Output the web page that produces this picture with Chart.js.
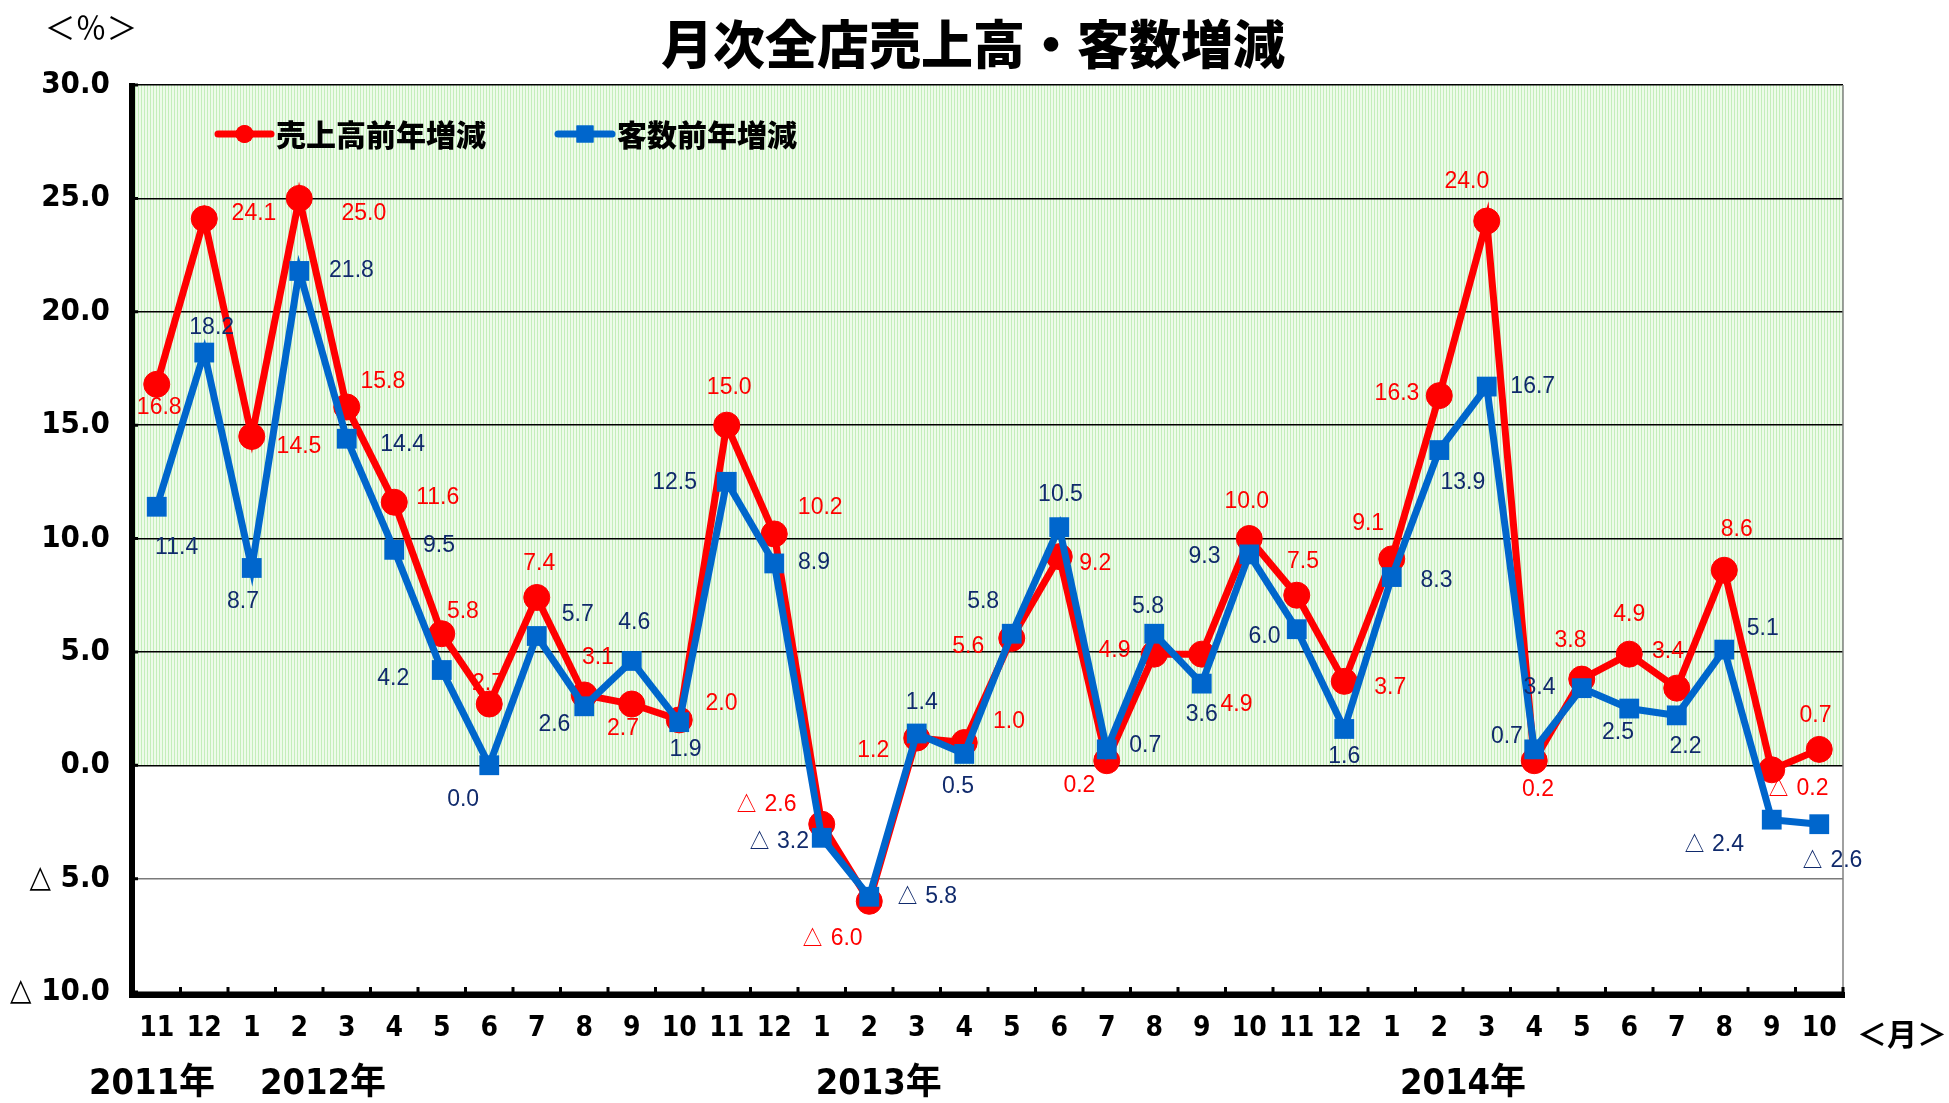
<!DOCTYPE html>
<html lang="ja">
<head>
<meta charset="utf-8">
<script src="https://cdn.jsdelivr.net/npm/chart.js@4.4.1/dist/chart.umd.min.js"></script>
<style>
    html, body { margin: 0; padding: 0; background: #ffffff; }
    #wrap { width: 1949px; height: 1103px; }
</style>
</head>
<body>
<div id="wrap"><canvas id="chart" width="1949" height="1103"></canvas></div>
<script>
// Data
const months = ['11', '12', '1', '2', '3', '4', '5', '6', '7', '8', '9', '10',
    '11', '12', '1', '2', '3', '4', '5', '6', '7', '8', '9', '10',
    '11', '12', '1', '2', '3', '4', '5', '6', '7', '8', '9', '10'];
const salesChange = [16.8, 24.1, 14.5, 25.0, 15.8, 11.6, 5.8, 2.7, 7.4, 3.1, 2.7, 2.0,
    15.0, 10.2, -2.6, -6.0, 1.2, 1.0, 5.6, 9.2, 0.2, 4.9, 4.9, 10.0,
    7.5, 3.7, 9.1, 16.3, 24.0, 0.2, 3.8, 4.9, 3.4, 8.6, -0.2, 0.7];
const customerChange = [11.4, 18.2, 8.7, 21.8, 14.4, 9.5, 4.2, 0.0, 5.7, 2.6, 4.6, 1.9,
    12.5, 8.9, -3.2, -5.8, 1.4, 0.5, 5.8, 10.5, 0.7, 5.8, 3.6, 9.3,
    6.0, 1.6, 8.3, 13.9, 16.7, 0.7, 3.4, 2.5, 2.2, 5.1, -2.4, -2.6];
const yearLabels = ['2011年', '2012年', '2013年', '2014年'];
const yearAt = [-0.1, 3.5, 15.2, 27.5]; // category index under which each year sits
const seriesNames = ['売上高前年増減', '客数前年増減'];

// label nudges (px, measured on a 1568-wide copy, scaled below)
const LABEL_SCALE = 1.243;
const salesLabelOffsets = [[2,19],[40,-4],[38,8],[52,12],[29,-20],[35,-4],[17,-18],[-1,-16],[2,-27],[11,-30],[-7,20],[34,-13],
    [2,-30],[37,-21],[-45,-16],[-30,30],[-35,10],[36,-17],[-35,7],[29,6],[-22,20],[-32,-3],[28,41],[-2,-30],
    [5,-27],[37,5],[-19,-28],[-34,-2],[-16,-32],[3,23],[-9,-31],[0,-32],[-7,-29],[10,-33],[21,15],[-3,-27]];
const customerLabelOffsets = [[16,33],[6,-20],[-7,27],[42,0],[45,5],[36,-3],[-39,7],[-21,28],[33,-17],[-24,15],[2,-31],[5,22],
    [-42,1],[32,-1],[-35,3],[46,0],[4,-25],[-5,26],[-23,-26],[1,-26],[31,-3],[-5,-22],[0,25],[-36,2],
    [-26,6],[0,22],[36,3],[19,26],[37,0],[-22,-10],[-34,0],[-9,19],[7,25],[31,-17],[-47,20],[10,29]];

const RED = '#ff0000';
const BLUE = '#0066cc';
const NAVY = '#102a6c';
const NARROW = "'Liberation Sans Narrow', 'DejaVu Sans Condensed', sans-serif";
const JP = "'Noto Sans CJK JP', sans-serif";

const fmt = v => v < 0 ? '△ ' + Math.abs(v).toFixed(1) : v.toFixed(1);

function stripePattern(ctx) {
    const c = document.createElement('canvas');
    c.width = 3; c.height = 1;
    const p = c.getContext('2d');
    p.fillStyle = '#eefbea';
    p.fillRect(0, 0, 3, 1);
    p.fillStyle = '#c4eebb';
    p.fillRect(0, 0, 1, 1);
    return ctx.createPattern(c, 'repeat');
}

const backgroundPlugin = {
    id: 'greenBand',
    beforeDraw(chart) {
        const { ctx, chartArea, scales } = chart;
        const zero = scales.y.getPixelForValue(0);
        ctx.save();
        ctx.fillStyle = stripePattern(ctx);
        ctx.fillRect(chartArea.left, chartArea.top, chartArea.right - chartArea.left, zero - chartArea.top);
        ctx.restore();
    }
};

const valueLabelsPlugin = {
    id: 'valueLabels',
    afterDatasetsDraw(chart) {
        const { ctx } = chart;
        const sets = [
            { idx: 0, offsets: salesLabelOffsets, color: RED },
            { idx: 1, offsets: customerLabelOffsets, color: NAVY }
        ];
        ctx.save();
        ctx.textAlign = 'center';
        ctx.textBaseline = 'middle';
        ctx.font = "23px 'Liberation Sans', Arial, sans-serif";
        sets.forEach(s => {
            const meta = chart.getDatasetMeta(s.idx);
            const data = chart.data.datasets[s.idx].data;
            ctx.fillStyle = s.color;
            meta.data.forEach((pt, i) => {
                const [dx, dy] = s.offsets[i];
                ctx.fillText(fmt(data[i]), pt.x + dx * LABEL_SCALE, pt.y + dy * LABEL_SCALE);
            });
        });
        ctx.restore();
    }
};

const decorPlugin = {
    id: 'decor',
    afterDraw(chart) {
        const { ctx, chartArea, scales } = chart;
        const { left, right, top, bottom } = chartArea;
        ctx.save();

        // right border
        ctx.strokeStyle = '#808080';
        ctx.lineWidth = 1.5;
        ctx.beginPath();
        ctx.moveTo(right, top);
        ctx.lineTo(right, bottom);
        ctx.stroke();

        // axes
        ctx.strokeStyle = '#000';
        ctx.lineWidth = 6;
        ctx.beginPath();
        ctx.moveTo(left - 1, top - 2);
        ctx.lineTo(left - 1, bottom + 3);
        ctx.lineTo(right + 2, bottom + 3);
        ctx.stroke();

        // inner tick stubs
        ctx.lineWidth = 3;
        ctx.beginPath();
        scales.y.ticks.forEach(t => {
            const y = scales.y.getPixelForValue(t.value);
            ctx.moveTo(left, y);
            ctx.lineTo(left + 5, y);
        });
        for (let i = 0; i <= months.length; i++) {
            const x = scales.x.getPixelForValue(i - 0.5);
            ctx.moveTo(x, bottom);
            ctx.lineTo(x, bottom - 5);
        }
        ctx.stroke();

        // title
        ctx.fillStyle = '#000';
        ctx.textAlign = 'center';
        ctx.textBaseline = 'middle';
        ctx.font = `900 52px ${JP}`;
        ctx.fillText('月次全店売上高・客数増減', 973, 44);

        // unit labels
        ctx.font = `400 31px ${JP}`;
        ctx.fillText('＜％＞', 91, 27);
        ctx.font = `700 30px ${JP}`;
        ctx.fillText('＜月＞', 1902, 1034);

        // years
        ctx.font = `bold 36px ${NARROW.replace('sans-serif', JP)}`;
        yearLabels.forEach((lab, i) => {
            ctx.fillText(lab, scales.x.getPixelForValue(yearAt[i]), 1085);
        });

        // legend
        const legendY = 134;
        const items = [
            { x0: 218, x1: 271, color: RED, style: 'circle', r: 9, tx: 276, text: seriesNames[0] },
            { x0: 558, x1: 612, color: BLUE, style: 'rect', r: 12, tx: 617, text: seriesNames[1] }
        ];
        items.forEach(it => {
            ctx.strokeStyle = it.color;
            ctx.fillStyle = it.color;
            ctx.lineWidth = 7;
            ctx.lineCap = 'round';
            ctx.beginPath();
            ctx.moveTo(it.x0, legendY);
            ctx.lineTo(it.x1, legendY);
            ctx.stroke();
            Chart.helpers.drawPoint(ctx, { pointStyle: it.style, radius: it.r, borderWidth: 0 }, (it.x0 + it.x1) / 2, legendY);
            ctx.fill();
            ctx.fillStyle = '#000';
            ctx.textAlign = 'left';
            ctx.font = `900 30px ${JP}`;
            ctx.fillText(it.text, it.tx, legendY + 1);
        });
        ctx.restore();
    }
};

new Chart(document.getElementById('chart'), {
    type: 'line',
    data: {
        labels: months,
        datasets: [{
            label: seriesNames[0],
            data: salesChange,
            borderColor: RED,
            backgroundColor: RED,
            borderWidth: 7,
            pointStyle: 'circle',
            pointRadius: 13,
            pointBorderWidth: 1,
            pointBackgroundColor: RED,
            pointBorderColor: RED,
            tension: 0,
            order: 1
        }, {
            label: seriesNames[1],
            data: customerChange,
            borderColor: BLUE,
            backgroundColor: BLUE,
            borderWidth: 7,
            pointStyle: 'rect',
            pointRadius: 14,
            pointBorderWidth: 0,
            pointBackgroundColor: BLUE,
            tension: 0,
            order: 0
        }]
    },
    options: {
        responsive: false,
        animation: false,
        layout: { padding: { left: 0, top: 85, right: 106, bottom: 0 } },
        plugins: {
            legend: { display: false },
            title: { display: false },
            tooltip: { enabled: false }
        },
        scales: {
            x: {
                offset: true,
                grid: { display: false },
                border: { display: false },
                afterFit: scale => { scale.height = 111; },
                ticks: {
                    autoSkip: false,
                    maxRotation: 0,
                    padding: 12,
                    color: '#000',
                    font: { family: NARROW, size: 28, weight: 'bold' }
                }
            },
            y: {
                min: -10,
                max: 30,
                afterFit: scale => { scale.width = 133; },
                border: { display: false },
                grid: {
                    drawTicks: false,
                    lineWidth: 1.5,
                    color: c => (c.tick && c.tick.value < 0) ? '#7a7a7a' : '#000000'
                },
                ticks: {
                    stepSize: 5,
                    padding: 23,
                    color: '#000',
                    font: { family: NARROW, size: 31, weight: 'bold' },
                    callback: v => fmt(v)
                }
            }
        }
    },
    plugins: [backgroundPlugin, valueLabelsPlugin, decorPlugin]
});
</script>
</body>
</html>
